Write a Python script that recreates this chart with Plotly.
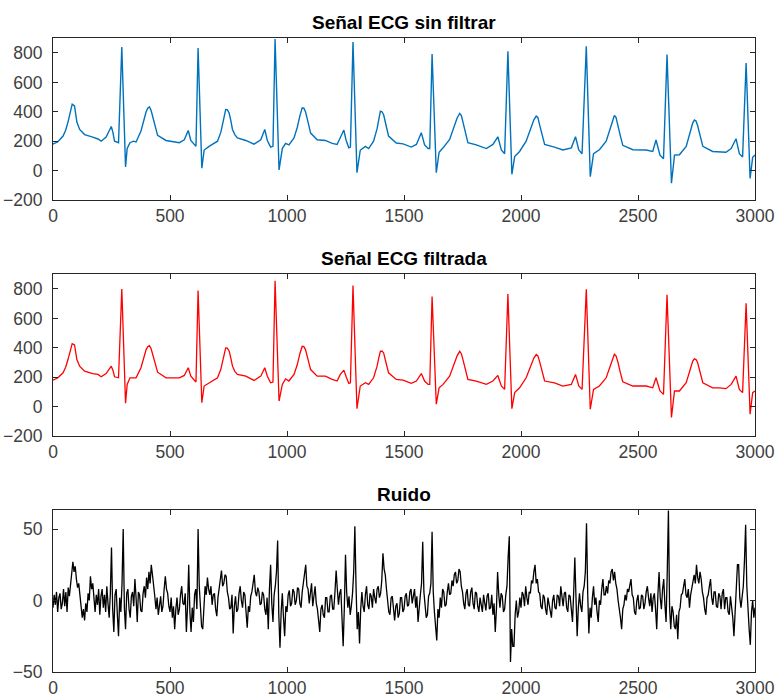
import plotly.graph_objects as go

# ---------------- data ----------------
# ECG vertices (sample index), shared by the raw and the filtered signal
ecg_x = [0, 21, 43, 54, 64, 74, 82, 92, 97, 102, 114, 135, 170, 192, 206, 227, 249, 256, 263, 280,
         294, 310, 317, 329, 344, 355, 376, 388, 398, 405, 412, 419, 426, 436, 447, 483, 540, 561, 578, 589, 604, 611,
         620, 636, 646, 667, 703, 717, 728, 738, 745, 753, 760, 767, 777, 788, 824, 859, 888, 905, 916, 930, 940,
         949, 966, 980, 994, 1008, 1030, 1044, 1055, 1065, 1072, 1079, 1090, 1101, 1129, 1164, 1193, 1214, 1228, 1243, 1252, 1264, 1271,
         1282, 1299, 1313, 1335, 1349, 1370, 1385, 1392, 1399, 1406, 1413, 1423, 1434, 1467, 1496, 1531, 1553, 1574, 1588, 1603, 1610,
         1620, 1638, 1650, 1667, 1695, 1716, 1727, 1738, 1745, 1752, 1762, 1773, 1809, 1852, 1880, 1901, 1916, 1930,
         1944, 1961, 1973, 1994, 2022, 2044, 2055, 2065, 2072, 2079, 2090, 2101, 2143, 2179, 2215, 2233, 2247, 2261,
         2279, 2296, 2310, 2335, 2364, 2385, 2392, 2399, 2406, 2414, 2424, 2435, 2478, 2535, 2563, 2577, 2594, 2609,
         2624, 2643, 2656, 2677, 2706, 2727, 2734, 2741, 2748, 2755, 2766, 2777, 2819, 2848, 2876, 2898, 2919, 2933, 2947,
         2962, 2979, 2990, 3000]

ecg_filt = [180, 196, 230, 268, 320, 390, 428, 420, 375, 320, 275, 241, 225, 219, 203, 225, 275, 248, 203, 196,
            800, 23, 151, 196, 196, 196, 264, 335, 388, 408, 415, 395, 354, 285, 234, 196, 196, 212, 264, 207, 174, 167,
            789, 27, 140, 162, 196, 252, 330, 399, 398, 377, 330, 275, 240, 219, 207, 178, 207, 264, 207, 162, 167,
            856, 38, 151, 189, 174, 219, 286, 360, 410, 408, 388, 320, 252, 207, 207, 185, 174, 219, 248, 207, 158, 162,
            823, -14, 140, 162, 151, 196, 275, 330, 376, 378, 365, 300, 230, 185, 180, 158, 174, 225, 174, 151, 151,
            748, 16, 128, 151, 207, 298, 345, 376, 360, 320, 250, 185, 174, 151, 174, 212, 140, 117,
            766, -14, 95, 128, 196, 286, 330, 354, 345, 309, 235, 174, 162, 140, 151, 219, 140, 117,
            798, -18, 117, 140, 196, 298, 335, 356, 345, 304, 235, 169, 140, 140, 128, 196, 106, 83,
            760, -74, 106, 106, 162, 275, 310, 325, 320, 298, 225, 162, 128, 128, 122, 151, 207, 117, 95,
            703, -52, 95, 106]

ecg_raw = [180, 196, 235, 275, 330, 410, 452, 440, 390, 330, 280, 245, 228, 215, 200, 228, 300, 260, 200, 190,
           840, 25, 150, 190, 200, 195, 270, 345, 400, 425, 434, 410, 365, 295, 240, 205, 190, 210, 273, 205, 172, 165,
           834, 16, 140, 165, 200, 260, 340, 416, 415, 390, 340, 280, 245, 222, 205, 180, 210, 280, 205, 160, 165,
           895, 5, 150, 185, 175, 222, 295, 372, 427, 425, 400, 330, 255, 210, 205, 185, 178, 225, 276, 210, 155, 160,
           875, -14, 138, 165, 150, 200, 285, 345, 404, 400, 380, 310, 235, 188, 182, 160, 178, 258, 175, 150, 150,
           793, -14, 125, 155, 212, 310, 358, 389, 375, 330, 255, 190, 175, 150, 178, 230, 140, 115,
           811, -25, 95, 130, 200, 300, 345, 371, 362, 315, 240, 178, 160, 140, 155, 230, 140, 115,
           845, -41, 115, 142, 200, 310, 350, 375, 362, 315, 240, 172, 142, 140, 130, 208, 105, 80,
           789, -86, 105, 108, 165, 285, 325, 344, 338, 305, 230, 165, 130, 128, 125, 150, 217, 115, 92,
           732, -54, 90, 106]

# Noise, one value every 5 samples (0..3000)
noise_x = list(range(0, 3001, 5))
noise_y = [
    -5, 4, -3, 6, -8, 2, 5, -6, -2, 8, -4, 6, -8, 9, 3, 12, 18, 27, 20, 24,
    15, 9, 12, 2, -3, -12, -6, -14, -2, -8, 5, 0, 17, 8, 12, -2, -8, 4, -3, 8,
    -10, 3, 8, -5, 4, -8, 10, -2, -12, 5, 37, -6, -22, 4, 8, -10, -25, 2, -8, 12,
    50, -5, -20, 5, 8, -6, -12, 3, 6, -4, 15, 2, -15, 6, 4, -7, -8, 5, 10, 2,
    16, 8, 20, 12, 25, 18, 12, 3, -6, 2, -10, -3, 3, -8, -4, 8, 17, 8, 5, -4,
    -8, 2, -12, -4, -20, -6, 2, -10, -6, 4, 10, -2, -3, 5, -22, -4, 25, -8, -22, -5,
    -15, 4, 8, -6, 50, 10, -5, -18, -20, 2, 10, 4, 16, 8, 4, 10, -3, 4, 5, -6,
    -11, 2, 8, 15, 21, 10, 12, 18, 17, 6, 2, -6, -5, 4, -23, -4, 3, -8, -6, 5,
    10, 0, -5, 6, 4, -8, -19, -4, -8, 3, 6, 12, 18, 6, 3, 9, 6, -3, -2, 6,
    4, -6, -10, 2, -20, 8, 25, -2, -15, 4, 10, 20, 42, -10, -33, -8, 5, -12, -25, -4,
    -8, 4, 7, -4, -2, 8, 6, -3, 0, 9, 8, -2, -5, 6, 12, 18, 25, 10, 8, -2,
    5, 12, -4, 4, 10, -2, -6, -14, -22, -6, -3, -10, -12, 2, 2, -8, -8, 3, 4, -6,
    -6, 6, 21, 8, -3, 5, 8, -12, -32, -5, 32, 6, -5, 3, -10, -4, 5, 20, 52, 10,
    -20, -8, -30, -6, 6, -4, -8, 4, 10, -3, -6, 5, 3, -5, 8, 2, -2, 8, 10, 2,
    5, 14, 33, 22, 18, 8, 0, -8, -10, 2, 3, -8, -14, -4, -2, -12, -9, 2, 2, -8,
    -6, 3, 5, -4, -3, 6, 8, -2, 2, 8, -5, 3, -15, -2, 4, 12, 41, 6, -3, -12,
    -10, 3, 5, 12, 48, 6, -8, -18, -28, -6, -12, 2, -5, 8, 6, -4, -3, 6, 12, 4,
    5, 14, 10, 18, 20, 12, 14, 22, 20, 10, 6, -2, -6, 5, 8, -3, -4, 6, 9, -2,
    -6, 6, 5, -4, -8, 2, -3, -8, 4, -4, -7, 3, 5, -6, -5, 4, -10, -2, -22, -6,
    20, 4, -5, 5, 3, -8, -6, 4, 10, 30, 45, -43, -20, -32, -32, -10, 0, -12, -8, 2,
    -5, 6, 4, -4, 10, 2, -3, 6, 5, 14, 12, 20, 25, 12, 15, 6, 5, -4, -6, 4,
    2, -6, -10, 2, -3, -8, -12, 0, 4, -5, -6, 4, 3, -4, 10, 3, -4, 5, 6, -5,
    -8, 4, 3, -6, -15, 5, 30, 2, -25, -5, 5, -4, -8, 6, 10, 20, 54, 5, -23, -5,
    -12, 2, 10, -3, 2, -8, -15, 0, -3, 8, 15, 4, 4, 10, 5, 14, 12, 20, 22, 14,
    20, 12, 8, 0, -5, -12, -20, -6, -3, 4, 0, 8, 6, 12, 15, 4, 2, -8, -10, 0,
    4, -6, -5, 4, 3, -6, -2, 6, 10, 2, -4, 5, -8, 2, 5, -6, -20, 4, 20, 2,
    -6, 8, 15, -3, -15, 20, 63, -5, -20, -4, -8, -18, -20, -10, -27, -8, -5, 4, 5, 10,
    15, 4, 2, 8, -5, 4, 8, 14, 18, 12, 25, 16, 12, 20, 15, 6, 2, -6, -10, 2,
    4, 10, 15, 2, -3, 6, 6, -4, -5, 5, 3, -6, 5, 8, -6, 2, 2, -8, -10, 3,
    -3, -12, -25, -4, 8, 25, 25, 2, -5, 4, 10, 28, 53, 10, -10, -20, -31, -8, 0, -12,
    -5]

titles = ["Señal ECG sin filtrar", "Señal ECG filtrada", "Ruido"]
x_ticks = [0, 500, 1000, 1500, 2000, 2500, 3000]
ecg_ticks = [-200, 0, 200, 400, 600, 800]
noise_ticks = [-50, 0, 50]

# ---------------- figure ----------------
W, H = 781, 700
ax_left, ax_right = 53, 755
boxes = [(38, 200), (274, 436), (510, 672)]  # pixel top/bottom of each axes box

fig = go.Figure()
fig.add_trace(go.Scatter(x=ecg_x, y=ecg_raw, mode="lines",
                         line=dict(color="#0072BD", width=1.4), xaxis="x", yaxis="y"))
fig.add_trace(go.Scatter(x=ecg_x, y=ecg_filt, mode="lines",
                         line=dict(color="#FF0000", width=1.3), xaxis="x2", yaxis="y2"))
fig.add_trace(go.Scatter(x=noise_x, y=noise_y, mode="lines",
                         line=dict(color="#000000", width=1.3), xaxis="x3", yaxis="y3"))

axcol = "#262626"
tickfont = dict(family="Liberation Sans, Arial, sans-serif", size=17.5, color="#404040")
xdom = [ax_left / W, ax_right / W]

layout = dict(width=W, height=H, autosize=False, margin=dict(l=0, r=0, t=0, b=0, pad=0),
              paper_bgcolor="white", plot_bgcolor="white", showlegend=False)

yranges = [[-200, 902], [-200, 902], [-50, 63.3]]
yticks = [ecg_ticks, ecg_ticks, noise_ticks]
for i, (top, bot) in enumerate(boxes):
    sfx = "" if i == 0 else str(i + 1)
    ydom = [1 - bot / H, 1 - top / H]
    common = dict(showline=True, linecolor=axcol, linewidth=1, mirror="ticks",
                  ticks="inside", ticklen=5, tickcolor=axcol, tickwidth=1,
                  showgrid=False, zeroline=False, tickfont=tickfont, automargin=False)
    layout["xaxis" + sfx] = dict(domain=xdom, range=[0, 3000], tickvals=x_ticks,
                                 anchor="y" + sfx, ticklabelstandoff=0, **common)
    layout["yaxis" + sfx] = dict(domain=ydom, range=yranges[i], tickvals=yticks[i],
                                 anchor="x" + sfx, ticklabelstandoff=6, **common)

annotations = []
for i, (top, bot) in enumerate(boxes):
    annotations.append(dict(text="<b>%s</b>" % titles[i], xref="paper", yref="paper",
                            x=(ax_left + ax_right) / 2 / W, y=1 - (top - 16) / H,
                            xanchor="center", yanchor="middle", showarrow=False,
                            font=dict(family="Liberation Sans, Arial, sans-serif",
                                      size=19, color="#000000")))
layout["annotations"] = annotations

fig.update_layout(**layout)
fig.write_html("out.html")
